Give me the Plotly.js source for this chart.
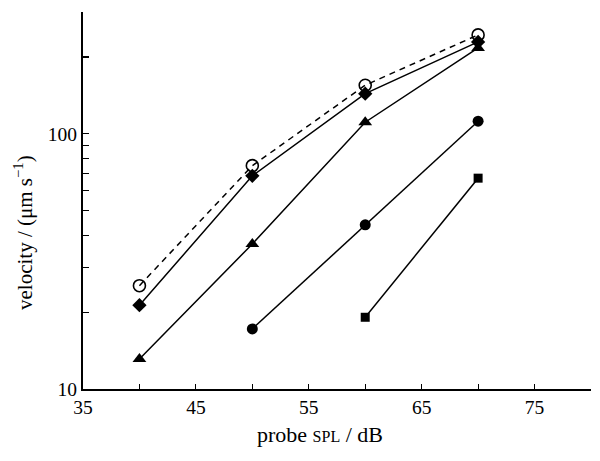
<!DOCTYPE html>
<html>
<head>
<meta charset="utf-8">
<script src="https://cdn.plot.ly/plotly-3.0.1.min.js"></script>
<style>html,body{margin:0;padding:0;background:#fff;}#chart{width:600px;height:461px;}</style>
</head>
<body>
<div id="chart"></div>
<script>
// probe SPL (dB)
const splAll = [40, 50, 60, 70];
const splCircle = [50, 60, 70];
const splSquare = [60, 70];
// velocity (µm/s)
const velOpen = [25.4, 75, 155, 244];
const velDiamond = [21.3, 68.4, 143.6, 229];
const velTriangle = [13.1, 37, 111, 217];
const velCircle = [17.2, 44, 112];
const velSquare = [19.1, 67];
// ticks
const xTickVals = [35, 45, 55, 65, 75];
const xTickText = ['35', '45', '55', '65', '75'];
const xMinorVals = [40, 50, 60, 70, 80];
const yTickVals = [10, 100];
const yTickText = ['10', '100'];
const yMinorVals = [20, 30, 40, 50, 60, 70, 80, 90, 200, 300];

const lineStyle = {color: '#000', width: 1.5};
const traces = [
  {x: splAll, y: velOpen, mode: 'lines+markers', line: {color: '#000', width: 1.5, dash: '6px,5px'},
   marker: {symbol: 'circle-open', size: 12, color: '#000', line: {width: 1.6, color: '#000'}}},
  {x: splAll, y: velDiamond, mode: 'lines+markers', line: lineStyle,
   marker: {symbol: 'diamond', size: 11, color: '#000'}},
  {x: splAll, y: velTriangle, mode: 'lines+markers', line: lineStyle,
   marker: {symbol: 'triangle-up', size: 12, color: '#000'}},
  {x: splCircle, y: velCircle, mode: 'lines+markers', line: lineStyle,
   marker: {symbol: 'circle', size: 11, color: '#000'}},
  {x: splSquare, y: velSquare, mode: 'lines+markers', line: lineStyle,
   marker: {symbol: 'square', size: 9, color: '#000'}}
];

const fam = 'Liberation Serif, Times New Roman, serif';
const tickFont = {family: fam, size: 19.5, color: '#000'};
const titleFont = {family: fam, size: 21, color: '#000'};
const xTitleFont = {family: fam, size: 22, color: '#000'};
const layout = {
  width: 600, height: 461,
  margin: {l: 83, r: 9, t: 12, b: 72},
  paper_bgcolor: '#fff', plot_bgcolor: '#fff',
  showlegend: false,
  font: tickFont,
  xaxis: {
    range: [35, 80], tickmode: 'array', tickvals: xTickVals, ticktext: xTickText,
    ticks: 'inside', ticklen: 5, tickwidth: 1.2, tickcolor: '#000',
    minor: {tickmode: 'array', tickvals: xMinorVals, ticks: 'inside', ticklen: 5, tickwidth: 1.2, tickcolor: '#000', showgrid: false},
    showline: true, linecolor: '#000', linewidth: 2, showgrid: false, zeroline: false,
    tickfont: tickFont
  },
  yaxis: {
    type: 'log', range: [1, Math.log10(300)], tickmode: 'array', tickvals: yTickVals, ticktext: yTickText,
    ticks: 'inside', ticklen: 6, tickwidth: 1.2, tickcolor: '#000',
    minor: {tickmode: 'array', tickvals: yMinorVals, ticks: 'inside', ticklen: 6, tickwidth: 1.2, tickcolor: '#000', showgrid: false},
    showline: true, linecolor: '#000', linewidth: 2, showgrid: false, zeroline: false,
    tickfont: tickFont
  },
  annotations: [
    {text: 'velocity / (μm s<sup>−1</sup>)', xref: 'paper', yref: 'paper', x: -0.116, y: 0.414,
     xanchor: 'center', yanchor: 'middle', textangle: -90, showarrow: false, font: titleFont},
    {text: 'probe <span style="font-size:16px">SPL</span> / dB', xref: 'paper', yref: 'paper', x: 0.467, y: -0.12,
     xanchor: 'center', yanchor: 'middle', showarrow: false, font: xTitleFont}
  ]
};
Plotly.newPlot('chart', traces, layout, {displayModeBar: false, staticPlot: true});
</script>
</body>
</html>
